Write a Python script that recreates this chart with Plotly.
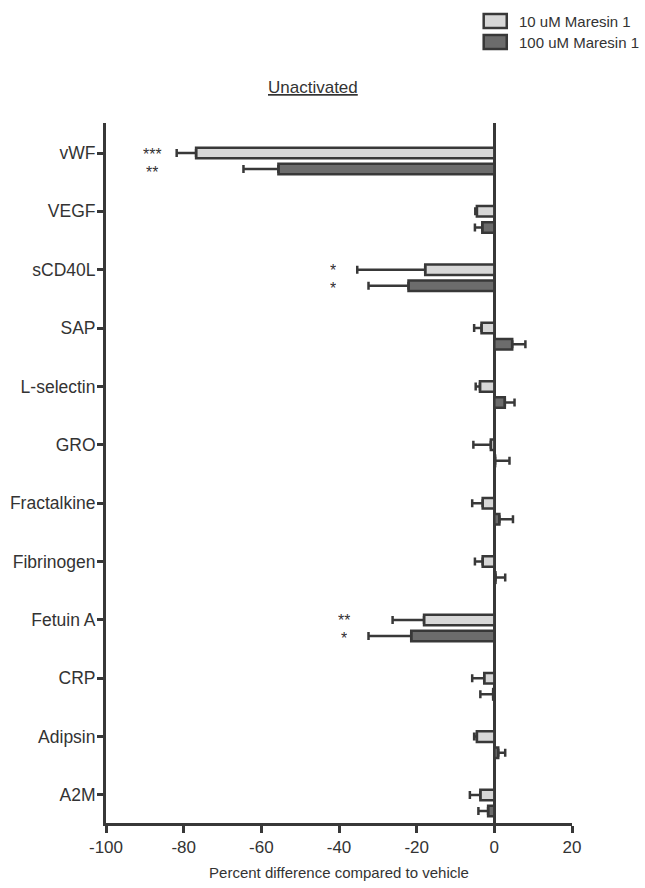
import plotly.graph_objects as go

categories = ["vWF", "VEGF", "sCD40L", "SAP", "L-selectin", "GRO", "Fractalkine",
              "Fibrinogen", "Fetuin A", "CRP", "Adipsin", "A2M"]
series_names = ["10 uM Maresin 1", "100 uM Maresin 1"]
low_vals = [-76.8, -4.5, -17.8, -3.3, -3.7, -0.9, -3.0, -3.0, -18.1, -2.6, -4.5, -3.6]
low_err = [5.0, 0.4, 17.5, 1.9, 1.1, 4.5, 2.7, 2.0, 8.1, 3.1, 0.7, 2.7]
high_vals = [-55.6, -3.1, -22.1, 4.6, 2.7, 0.2, 1.3, 0.3, -21.4, -0.3, 1.0, -1.6]
high_err = [9.0, 1.9, 10.3, 3.4, 2.5, 3.7, 3.5, 2.5, 11.0, 3.3, 1.8, 2.5]
low_sig = ["***", "", "*", "", "", "", "", "", "**", "", "", ""]
high_sig = ["**", "", "*", "", "", "", "", "", "*", "", "", ""]
x_ticks = [-100, -80, -60, -40, -20, 0, 20]

FILL_LIGHT = "#d7d7d7"
FILL_DARK = "#6c6c6c"
EDGE = "#383838"
TXT = "#333333"
FONT = "Arial, Liberation Sans, sans-serif"
OFFSET = 0.275

pos_low = list(range(len(categories)))
pos_high = [p + OFFSET for p in pos_low]


def one_sided(vals, errs):
    plus = [e if v > 0 else 0 for v, e in zip(vals, errs)]
    minus = [e if v <= 0 else 0 for v, e in zip(vals, errs)]
    return plus, minus


fig = go.Figure()
for vals, errs, pos, fill, name in [
    (low_vals, low_err, pos_low, FILL_LIGHT, series_names[0]),
    (high_vals, high_err, pos_high, FILL_DARK, series_names[1]),
]:
    plus, minus = one_sided(vals, errs)
    fig.add_trace(go.Bar(
        x=vals, y=pos, orientation="h", width=0.18, name=name,
        marker=dict(color=fill, line=dict(color=EDGE, width=2.5)),
        error_x=dict(type="data", symmetric=False, array=plus, arrayminus=minus,
                     color=EDGE, thickness=2.5, width=4),
        showlegend=False, hoverinfo="skip",
    ))

# significance stars
annotations = []
for i in range(len(categories)):
    ext = min(low_vals[i] - low_err[i], high_vals[i] - high_err[i])
    for sig, pos, shift in [(low_sig[i], pos_low[i], 1), (high_sig[i], pos_high[i], -1)]:
        if sig:
            annotations.append(dict(x=ext - 6.3, y=pos, xref="x", yref="y", text=sig,
                                    showarrow=False, xanchor="center", yanchor="middle",
                                    height=13, valign="top", yshift=shift,
                                    font=dict(size=16, color=TXT, family=FONT)))

# title
annotations.append(dict(x=0.4436, y=1.0514, xref="paper", yref="paper",
                        text="<u>Unactivated</u>", showarrow=False,
                        xanchor="center", yanchor="middle",
                        font=dict(size=17, color=TXT, family=FONT)))

# legend (manual)
shapes = []
for k, (fill, yc) in enumerate([(FILL_LIGHT, 1.1457), (FILL_DARK, 1.1157)]):
    shapes.append(dict(type="rect", xref="paper", yref="paper",
                       x0=0.8105, x1=0.8600, y0=yc - 0.0100, y1=yc + 0.0100,
                       fillcolor=fill, line=dict(color=EDGE, width=2.5)))
    annotations.append(dict(x=0.881, y=yc, xref="paper", yref="paper",
                            text=series_names[k], showarrow=False,
                            xanchor="left", yanchor="middle",
                            font=dict(size=15, color=TXT, family=FONT)))

fig.update_layout(
    width=645, height=888,
    margin=dict(l=106, r=73, t=123, b=65),
    paper_bgcolor="white", plot_bgcolor="white",
    font=dict(family=FONT, color=TXT),
    barmode="overlay",
    annotations=annotations, shapes=shapes,
    xaxis=dict(range=[-100, 20], tickvals=x_ticks, ticktext=[str(t) for t in x_ticks],
               automargin=False,
               showgrid=False, zeroline=True, zerolinecolor=EDGE, zerolinewidth=3,
               showline=True, linecolor=EDGE, linewidth=3,
               ticks="outside", ticklen=7, tickwidth=3, tickcolor=EDGE,
               tickfont=dict(size=17, color=TXT, family=FONT),
               title=dict(text="Percent difference compared to vehicle",
                          font=dict(size=15, color=TXT, family=FONT), standoff=12)),
    yaxis=dict(range=[11.48, -0.514], tickvals=pos_low, ticktext=categories,
               automargin=False,
               showgrid=False, zeroline=False,
               showline=True, linecolor=EDGE, linewidth=3,
               ticks="outside", ticklen=6, tickwidth=3, tickcolor=EDGE,
               ticklabelstandoff=-2,
               tickfont=dict(size=17.5, color=TXT, family=FONT)),
)

fig.write_html("out.html", config={"displayModeBar": False},
               post_script="document.body.style.margin='0';document.body.style.overflow='hidden';")
